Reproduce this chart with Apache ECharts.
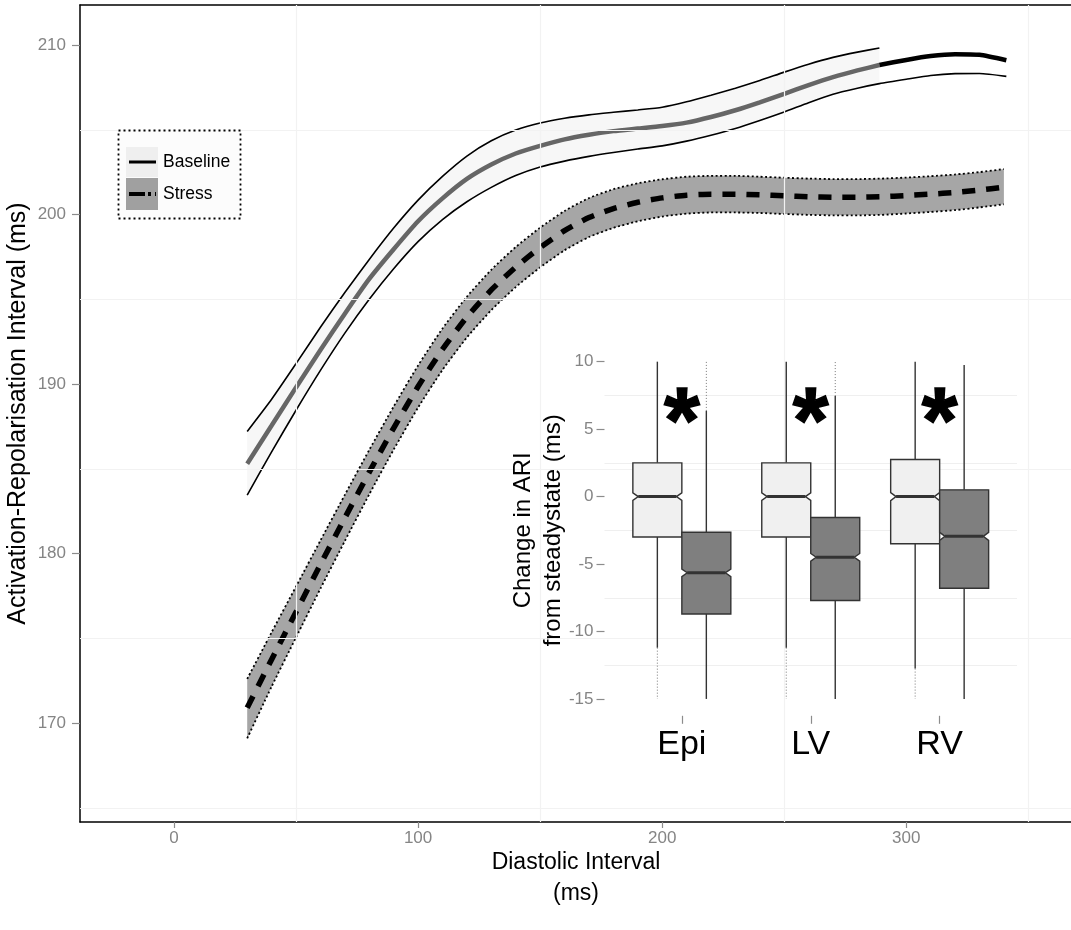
<!DOCTYPE html>
<html><head><meta charset="utf-8">
<script src="https://cdn.jsdelivr.net/npm/echarts@6/dist/echarts.min.js"></script>
<style>html,body{margin:0;padding:0;background:#fff}#c{width:1071px;height:930px}</style>
</head><body><div id="c"></div>
<script>
// ---------- main chart data ----------
const mainXTicks = [0, 100, 200, 300];
const mainYTicks = [170, 180, 190, 200, 210];
const mainXMinor = [50, 150, 250, 350];
const mainYMinor = [165, 175, 185, 195, 205];

const baselineX = [30,40,50,60,70,80,90,100,110,120,130,140,150,160,170,180,190,200,210,220,230,240,250,260,270,280,289];
const baselineMean = [185.3,187.55,189.8,192.0,194.15,196.2,197.95,199.6,200.95,202.1,202.95,203.6,204.05,204.43,204.7,204.92,205.07,205.22,205.42,205.75,206.15,206.62,207.12,207.63,208.1,208.5,208.82];
const baselineUpper = [187.2,189.1,191.2,193.35,195.4,197.35,199.2,200.85,202.25,203.45,204.35,204.98,205.4,205.68,205.88,206.03,206.17,206.33,206.65,207.04,207.45,207.9,208.4,208.87,209.27,209.58,209.82];
const baselineLowerX = [30,40,50,60,70,80,90,100,110,120,130,140,150,160,170,180,190,200,210,220,230,240,250,260,270,280,289,300,310,320,330,341];
const baselineLower = [183.45,186.0,188.45,190.8,193.0,195.0,196.8,198.4,199.7,200.75,201.6,202.3,202.8,203.15,203.43,203.66,203.86,204.05,204.33,204.68,205.08,205.55,206.05,206.6,207.1,207.45,207.72,207.98,208.2,208.31,208.32,208.15];
const baselineTailX = [289,300,310,320,330,341];
const baselineTail = [208.82,209.12,209.35,209.46,209.42,209.1];

const stressX = [30,40,50,60,70,80,90,100,110,120,130,140,150,160,170,180,190,200,210,220,230,240,250,260,270,280,290,300,310,320,330,340];
const stressMean = [170.9,173.75,176.55,179.35,182.1,184.8,187.4,189.85,192.05,193.95,195.55,196.9,198.05,199.05,199.82,200.35,200.72,200.98,201.14,201.2,201.2,201.16,201.1,201.05,201.02,201.02,201.05,201.12,201.2,201.3,201.44,201.62];
const stressUpper = [172.6,175.35,178.05,180.77,183.46,186.11,188.67,191.09,193.27,195.15,196.74,198.08,199.22,200.21,200.97,201.49,201.84,202.08,202.23,202.28,202.28,202.23,202.17,202.12,202.09,202.09,202.12,202.18,202.26,202.36,202.5,202.68];
const stressLower = [169.1,172.15,175.05,177.93,180.74,183.49,186.13,188.61,190.83,192.75,194.36,195.72,196.88,197.89,198.67,199.21,199.6,199.88,200.05,200.12,200.12,200.09,200.03,199.98,199.95,199.95,199.98,200.06,200.15,200.26,200.42,200.6];

// ---------- inset boxplot data ----------
const insetCategories = ['Epi', 'LV', 'RV'];
const insetYTicks = [-15, -10, -5, 0, 5, 10];
const insetYMinor = [7.5, 2.5, -2.5, -7.5, -12.5];
const baseQ1 = [-3.0, -3.0, -3.5];
const baseMedian = [0, 0, 0];
const baseQ3 = [2.5, 2.5, 2.75];
const baseWhiskerLow = [-11.2, -11.2, -12.75];
const baseWhiskerHigh = [10, 10, 10];
const baseOutlierLow = [-15, -15, -15];
const baseOutlierHigh = [null, null, null];
const baseNotch = [0.28, 0.28, 0.3];
const stressQ1 = [-8.7, -7.7, -6.8];
const stressMedian = [-5.65, -4.5, -2.95];
const stressQ3 = [-2.65, -1.55, 0.5];
const stressWhiskerLow = [-15, -15, -15];
const stressWhiskerHigh = [6.35, 7.45, 9.75];
const stressOutlierLow = [null, null, null];
const stressOutlierHigh = [10, 10, null];
const stressNotch = [0.28, 0.28, 0.3];
const asteriskY = [8.6, 8.6, 8.6];

// ---------- helpers ----------
const FONT = 'Liberation Sans, Arial, sans-serif';
const pairs = (xs, ys) => xs.map((x, i) => [x, ys[i]]);
const groups = [
  {q1: baseQ1, med: baseMedian, q3: baseQ3, wLo: baseWhiskerLow, wHi: baseWhiskerHigh, oLo: baseOutlierLow, oHi: baseOutlierHigh, notch: baseNotch, fill: '#f0f0f0'},
  {q1: stressQ1, med: stressMedian, q3: stressQ3, wLo: stressWhiskerLow, wHi: stressWhiskerHigh, oLo: stressOutlierLow, oHi: stressOutlierHigh, notch: stressNotch, fill: '#7f7f7f'}
];
const BOXW = 0.38;

function ribbon(xs, up, lo, n) {
  return function (params, api) {
    const pts = [];
    for (let i = 0; i < n; i++) pts.push(api.coord([xs[i], up[i]]));
    for (let i = n - 1; i >= 0; i--) pts.push(api.coord([xs[i], lo[i]]));
    return {type: 'polygon', shape: {points: pts}, style: {fill: api.visual('color')}};
  };
}

function boxItem(params, api) {
  const ci = api.value(0) - 1, g = api.value(1);
  const s = groups[g];
  const L = ci + 1 + (g === 0 ? -BOXW : 0), R = L + BOXW, C = (L + R) / 2;
  const pl = api.coord([L, s.q3[ci]]), pr = api.coord([R, s.q3[ci]]);
  const ind = (pr[0] - pl[0]) * 0.11;
  const y = v => api.coord([C, v])[1];
  const xL = pl[0], xR = pr[0], xC = (xL + xR) / 2;
  const yq3 = y(s.q3[ci]), yq1 = y(s.q1[ci]), ym = y(s.med[ci]);
  const yu = y(s.med[ci] + s.notch[ci]), yl = y(s.med[ci] - s.notch[ci]);
  const children = [];
  const ln = (y1, y2, dash) => ({type: 'line', shape: {x1: xC, y1: y1, x2: xC, y2: y2},
    style: dash ? {stroke: '#777', lineWidth: 1, lineDash: [1, 2]} : {stroke: '#333', lineWidth: 1.4}});
  if (s.oHi[ci] != null) children.push(ln(y(s.wHi[ci]), y(s.oHi[ci]), true));
  if (s.oLo[ci] != null) children.push(ln(y(s.wLo[ci]), y(s.oLo[ci]), true));
  children.push(ln(yq3, y(s.wHi[ci])));
  children.push(ln(yq1, y(s.wLo[ci])));
  children.push({type: 'polygon', shape: {points: [
    [xL, yq3], [xR, yq3], [xR, yu], [xR - ind, ym], [xR, yl], [xR, yq1],
    [xL, yq1], [xL, yl], [xL + ind, ym], [xL, yu]]},
    style: {fill: s.fill, stroke: '#333', lineWidth: 1.4}});
  children.push({type: 'line', shape: {x1: xL + ind, y1: ym, x2: xR - ind, y2: ym}, style: {stroke: '#333', lineWidth: 3}});
  return {type: 'group', children: children};
}

function asteriskItem(params, api) {
  const p = api.coord([api.value(0), api.value(1)]);
  return {type: 'group', children: [
    {type: 'text', x: p[0], y: p[1], style: {text: '*', fill: '#000', font: 'bold 92px ' + FONT,
      align: 'center', verticalAlign: 'top', stroke: '#000', lineWidth: 1.5}}
  ]};
}

const chart = echarts.init(document.getElementById('c'), null, {renderer: 'canvas'});
const grayTick = {color: '#8c8c8c', width: 1.2};

const option = {
  animation: false,
  backgroundColor: '#fff',
  textStyle: {fontFamily: FONT},
  grid: [
    {left: 80, top: 5, width: 992, height: 817, outerBoundsMode: 'none', containLabel: false},
    {left: 604.5, top: 344.8, width: 412.5, height: 371, outerBoundsMode: 'none', containLabel: false}
  ],
  xAxis: [
    {gridIndex: 0, type: 'value', min: -38.5, max: 367.9, position: 'bottom',
     axisLine: {onZero: false, lineStyle: {color: '#000', width: 1.5}},
     axisTick: {customValues: mainXTicks, length: 6, lineStyle: grayTick},
     axisLabel: {customValues: mainXTicks, color: '#858585', fontSize: 17, margin: 8, fontFamily: FONT},
     splitLine: {show: false},
     name: 'Diastolic Interval\n(ms)', nameLocation: 'middle', nameGap: 25, nameMoveOverlap: false,
     nameTextStyle: {fontSize: 23, lineHeight: 31, color: '#000', fontFamily: FONT}},
    {gridIndex: 0, type: 'value', min: -38.5, max: 367.9, position: 'top',
     axisLine: {onZero: false, lineStyle: {color: '#000', width: 1.5}},
     axisTick: {show: false}, axisLabel: {show: false}, splitLine: {show: false}},
    {gridIndex: 1, type: 'value', min: 0.4, max: 3.6, position: 'bottom', z: 10,
     axisLine: {show: false, onZero: false},
     axisTick: {customValues: [1, 2, 3], length: 8, lineStyle: grayTick},
     axisLabel: {customValues: [1, 2, 3], formatter: v => insetCategories[Math.round(v) - 1] || '',
                 color: '#000', fontSize: 34, margin: 12, fontFamily: FONT},
     splitLine: {show: false}}
  ],
  yAxis: [
    {gridIndex: 0, type: 'value', min: 164.16, max: 212.36,
     axisLine: {onZero: false, lineStyle: {color: '#000', width: 1.5}},
     axisTick: {customValues: mainYTicks, length: 8, lineStyle: grayTick},
     axisLabel: {customValues: mainYTicks, color: '#858585', fontSize: 17, margin: 14, fontFamily: FONT},
     splitLine: {show: false},
     name: 'Activation-Repolarisation Interval (ms)', nameLocation: 'middle', nameGap: 49, nameMoveOverlap: false,
     nameTextStyle: {fontSize: 25, color: '#000', fontFamily: FONT}},
    {gridIndex: 1, type: 'value', min: -16.25, max: 11.25, z: 10,
     axisLine: {show: false, onZero: false},
     axisTick: {customValues: insetYTicks, length: 8, lineStyle: grayTick},
     axisLabel: {customValues: insetYTicks, color: '#858585', fontSize: 17, margin: 11, fontFamily: FONT},
     splitLine: {show: false},
     name: 'Change in ARI\nfrom steadystate (ms)', nameLocation: 'middle', nameGap: 36, nameMoveOverlap: false,
     nameTextStyle: {fontSize: 24, lineHeight: 30, color: '#000', fontFamily: FONT}}
  ],
  graphic: {elements: [
    {type: 'rect', z: 5, shape: {x: 492, y: 316, width: 548, height: 462}, style: {fill: '#fff'}},
    {type: 'rect', z: 12, shape: {x: 118.5, y: 130.5, width: 122, height: 88},
     style: {fill: '#fcfcfc', stroke: '#000', lineWidth: 1.8, lineDash: [2, 3]}},
    {type: 'rect', z: 12, shape: {x: 126, y: 147, width: 32, height: 30}, style: {fill: '#efefef'}},
    {type: 'rect', z: 12, shape: {x: 126, y: 178, width: 32, height: 32}, style: {fill: '#a0a0a0'}},
    {type: 'line', z: 13, shape: {x1: 129, y1: 162, x2: 156, y2: 162}, style: {stroke: '#000', lineWidth: 3}},
    {type: 'line', z: 13, shape: {x1: 129, y1: 194, x2: 156, y2: 194}, style: {stroke: '#000', lineWidth: 4, lineDash: [16, 3, 3, 4]}},
    {type: 'text', z: 13, x: 163, y: 162, style: {text: 'Baseline', fill: '#000', font: '17.5px ' + FONT, verticalAlign: 'middle'}},
    {type: 'text', z: 13, x: 163, y: 194, style: {text: 'Stress', fill: '#000', font: '17.5px ' + FONT, verticalAlign: 'middle'}}
  ]},
  series: [
    {type: 'line', xAxisIndex: 0, yAxisIndex: 0, z: 0, data: [[0, 190]], symbol: 'none', lineStyle: {opacity: 0}, silent: true,
     markLine: {silent: true, symbol: 'none', label: {show: false},
       lineStyle: {color: '#f2f2f2', width: 1.2, type: 'solid'},
       data: mainXMinor.map(v => ({xAxis: v})).concat(mainYMinor.map(v => ({yAxis: v})))}},
    {type: 'custom', xAxisIndex: 0, yAxisIndex: 0, z: 1, itemStyle: {color: '#f7f7f7'},
     renderItem: ribbon(baselineX, baselineUpper, baselineLower, baselineX.length), data: [[30, 185]], silent: true},
    {type: 'custom', xAxisIndex: 0, yAxisIndex: 0, z: 1, itemStyle: {color: '#a6a6a6'},
     renderItem: ribbon(stressX, stressUpper, stressLower, stressX.length), data: [[30, 170]], silent: true},
    {type: 'line', xAxisIndex: 0, yAxisIndex: 0, z: 2, data: pairs(baselineX, baselineUpper), symbol: 'none', smooth: 0.2,
     lineStyle: {color: '#000', width: 1.6}},
    {type: 'line', xAxisIndex: 0, yAxisIndex: 0, z: 2, data: pairs(baselineLowerX, baselineLower), symbol: 'none', smooth: 0.2,
     lineStyle: {color: '#000', width: 1.6}},
    {type: 'line', xAxisIndex: 0, yAxisIndex: 0, z: 3, data: pairs(baselineX, baselineMean), symbol: 'none', smooth: 0.2,
     lineStyle: {color: '#666', width: 4.5, cap: 'butt'}},
    {type: 'line', xAxisIndex: 0, yAxisIndex: 0, z: 3, data: pairs(baselineTailX, baselineTail), symbol: 'none', smooth: 0.2,
     lineStyle: {color: '#000', width: 4.5, cap: 'butt'}},
    {type: 'line', xAxisIndex: 0, yAxisIndex: 0, z: 2, data: pairs(stressX, stressUpper), symbol: 'none', smooth: 0.2,
     lineStyle: {color: '#000', width: 1.8, type: [2, 2.5]}},
    {type: 'line', xAxisIndex: 0, yAxisIndex: 0, z: 2, data: pairs(stressX, stressLower), symbol: 'none', smooth: 0.2,
     lineStyle: {color: '#000', width: 1.8, type: [2, 2.5]}},
    {type: 'line', xAxisIndex: 0, yAxisIndex: 0, z: 3, data: pairs(stressX, stressMean), symbol: 'none', smooth: 0.2,
     lineStyle: {color: '#000', width: 5.5, type: [13, 11], cap: 'butt'}},
    // inset
    {type: 'line', xAxisIndex: 2, yAxisIndex: 1, z: 8, data: [[2, 0]], symbol: 'none', lineStyle: {opacity: 0}, silent: true,
     markLine: {silent: true, symbol: 'none', label: {show: false},
       lineStyle: {color: '#efefef', width: 1.2, type: 'solid'},
       data: insetYMinor.map(v => ({yAxis: v}))}},
    {type: 'custom', xAxisIndex: 2, yAxisIndex: 1, z: 10, renderItem: boxItem, silent: true,
     data: [[1, 0], [1, 1], [2, 0], [2, 1], [3, 0], [3, 1]]},
    {type: 'custom', xAxisIndex: 2, yAxisIndex: 1, z: 11, renderItem: asteriskItem, silent: true,
     data: asteriskY.map((v, i) => [i + 1, v])}
  ]
};
chart.setOption(option);
</script>
</body></html>
